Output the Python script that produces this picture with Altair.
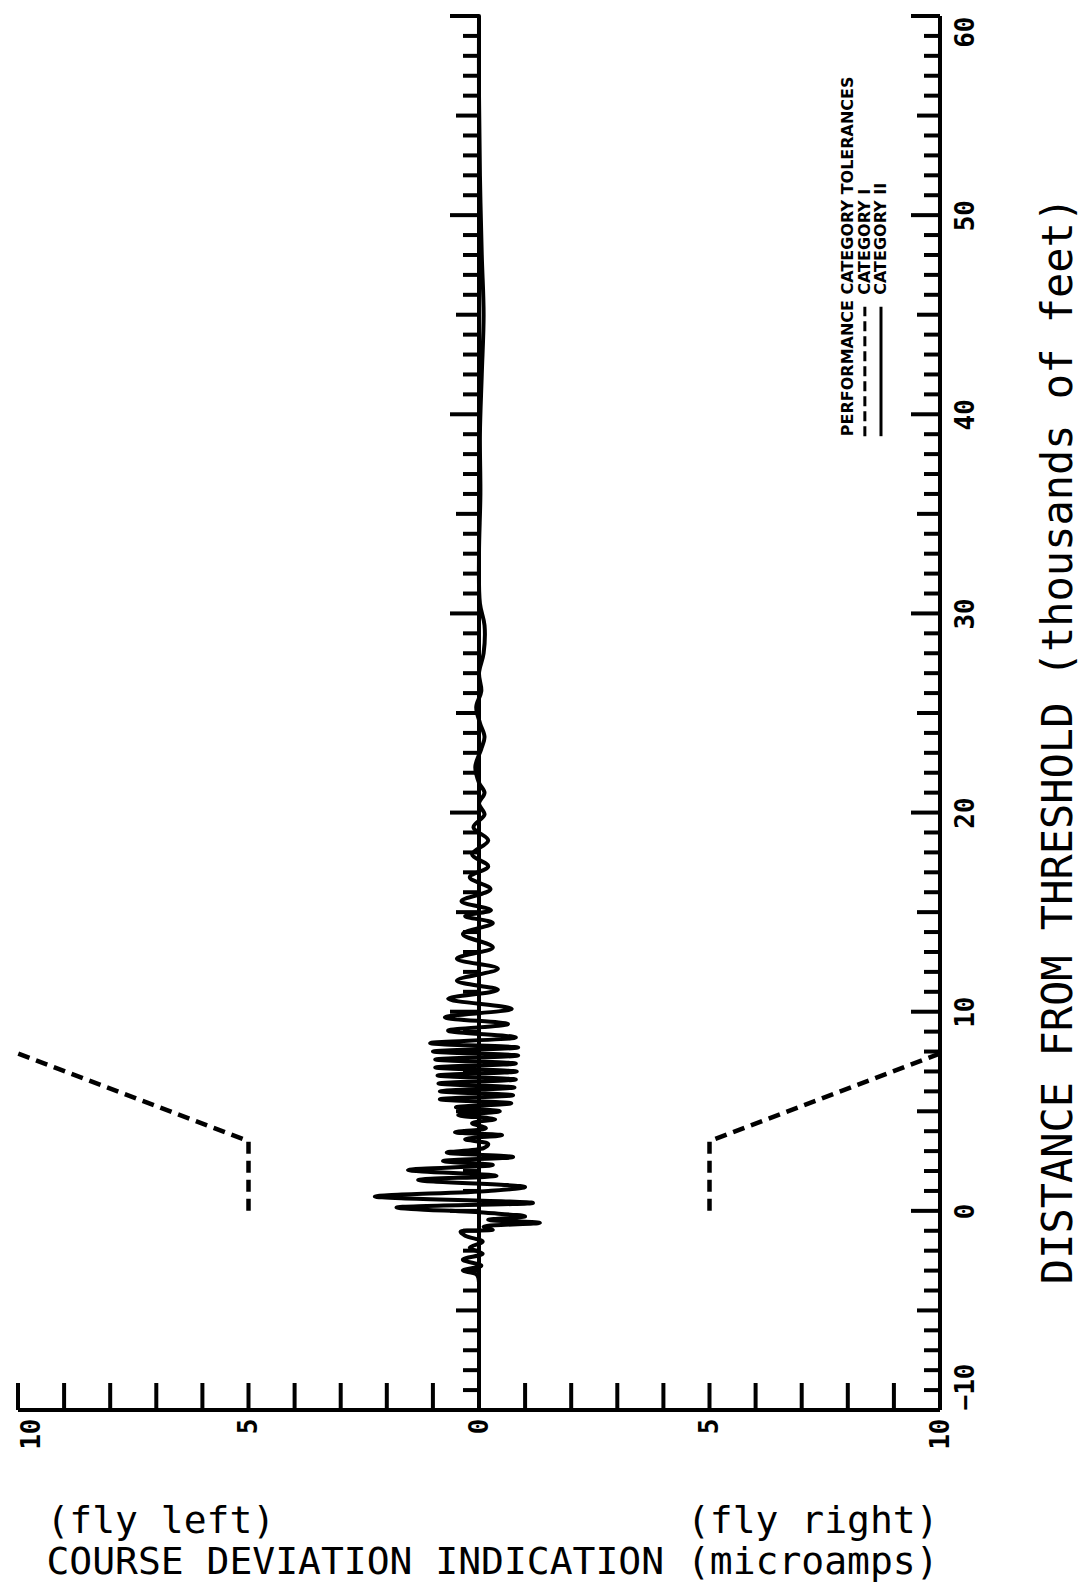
import altair as alt
import pandas as pd

# ---------------- data ----------------
# recorded course deviation trace: distance (thousands of ft) / CDI (microamps, negative = fly left)
trace_dist = [-3.6, -3.2, -3.0, -2.75, -2.45, -2.15, -1.85, -1.55, -1.25, -1.05,
              -0.95, -0.8, -0.6, -0.45, -0.28, -0.1, 0.17, 0.4, 0.72, 1.0,
              1.2, 1.55, 1.76, 2.05, 2.3, 2.5, 2.7, 2.93, 3.15, 3.36,
              3.6, 3.8, 3.95, 4.15, 4.4, 4.6, 4.8, 5.0, 5.2, 5.4,
              5.6, 5.8, 6.0, 6.2, 6.4, 6.6, 6.8, 7.0, 7.2, 7.4,
              7.6, 7.8, 8.0, 8.2, 8.42, 8.71, 9.05, 9.38, 9.72, 10.15,
              10.65, 11.1, 11.56, 12.16, 12.66, 13.23, 13.9, 14.45, 14.8, 15.1,
              15.55, 16.15, 16.75, 17.3, 17.9, 18.6, 19.26, 19.9, 20.45, 21.0,
              21.5, 22.3, 23.2, 23.8, 24.5, 25.3, 26.1, 27.0, 28.0, 29.4,
              30.5, 33.0, 36.0, 39.0, 42.0, 45.0, 48.0, 52.0, 56.0, 60.0]
trace_cdi = [0.0, -0.05, -0.35, 0.05, -0.35, 0.08, -0.2, 0.08, -0.3, -0.4,
             0.3, 0.1, 1.32, 0.2, 1.0, 0.15, -1.79, 1.17, -2.26, 0.2,
             1.0, -1.32, 0.38, -1.54, 0.3, -0.78, 0.74, -0.7, 0.1, 0.2,
             -0.3, 0.5, -0.52, 0.15, -0.15, 0.35, -0.45, 0.45, -0.5, 0.7,
             -0.85, 0.74, -0.85, 0.77, -0.88, 0.8, -0.9, 0.82, -0.95, 0.8,
             -0.95, 0.85, -1.0, 0.85, -1.06, 0.8, -0.67, 0.63, -0.74, 0.71,
             -0.67, 0.41, -0.48, 0.41, -0.48, 0.3, -0.35, 0.3, -0.3, 0.26,
             -0.38, 0.25, -0.2, 0.2, -0.15, 0.2, -0.12, 0.12, 0.0, 0.12,
             0.0, -0.08, 0.05, 0.12, 0.02, -0.06, 0.05, 0.0, 0.1, 0.12,
             0.02, 0.0, 0.03, 0.02, 0.06, 0.1, 0.06, 0.02, 0.0, 0.0]

# Category I tolerance envelope
tol_dist = [0.0, 3.5, 7.9]
tol_left = [-5, -5, -10]
tol_right = [5, 5, 10]

# axis tick positions
cdi_ticks = list(range(-10, 11))
dist_all = list(range(-10, 61))
dist_major = [d for d in dist_all if d % 10 == 0]
dist_mid = [d for d in dist_all if d % 5 == 0 and d % 10 != 0]
dist_minor = [d for d in dist_all if d % 5 != 0]
x_label_values = [-10, -5, 0, 5, 10]
y_label_values = [-10, 0, 10, 20, 30, 40, 50, 60]

# legend
legend_text = ["PERFORMANCE CATEGORY TOLERANCES", "CATEGORY I", "CATEGORY II"]
legend_x = [8.0, 8.37, 8.72]
legend_y = [38.9, 46.0, 46.0]
legend_line_x = [8.37, 8.72]
legend_line_y = [38.9, 38.9]
legend_line_y2 = [45.4, 45.4]

x_title = ["(fly left)" + "\u00a0" * 18 + "(fly right)",
           "COURSE DEVIATION INDICATION (microamps)"]
y_title = "DISTANCE FROM THRESHOLD (thousands of feet)"

# ---------------- chart ----------------
xs = alt.Scale(domain=[-10, 10], nice=False, zero=False)
ys = alt.Scale(domain=[-10, 60], nice=False, zero=False)
MONO = "DejaVu Sans Mono"

x_axis = alt.Axis(values=x_label_values, labelExpr="'' + abs(datum.value)",
                  labelAngle=270, labelAlign="right",
                  labelBaseline={"condition": {"test": "datum.value == -10", "value": "top"},
                                 "value": "middle"},
                  labelFont=MONO, labelFontWeight="bold", labelFontSize=26,
                  labelColor="black", labelPadding=8, labelFlush=False,
                  labelOverlap=False, ticks=False, tickSize=0, domain=False, grid=False,
                  title=x_title, titleFont=MONO, titleFontSize=38,
                  titleFontWeight="normal", titleColor="black", titleLineHeight=41,
                  titleX=474, titleY=92, titleAlign="center", titleBaseline="top",
                  titleAnchor="middle")
y_axis = alt.Axis(orient="right", values=y_label_values,
                  labelAngle=270,
                  labelAlign={"condition": [{"test": "datum.value == 60", "value": "right"},
                                            {"test": "datum.value == -10", "value": "left"}],
                              "value": "center"},
                  labelBaseline="top",
                  labelFont=MONO, labelFontWeight="bold", labelFontSize=26,
                  labelColor="black", labelPadding=12, labelFlush=False,
                  labelOverlap=False, ticks=False, tickSize=0, domain=False, grid=False,
                  title=y_title, titleFont=MONO, titleFontSize=42,
                  titleFontWeight="normal", titleColor="black", titleAngle=270,
                  titleX=118, titleY=724, titleAlign="center", titleBaseline="middle")


def X(field):
    return alt.X(field, type="quantitative", scale=xs, axis=x_axis)


def Y(field):
    return alt.Y(field, type="quantitative", scale=ys, axis=y_axis)


trace_df = pd.DataFrame({"i": range(len(trace_dist)), "d": trace_dist, "c": trace_cdi})
trace = alt.Chart(trace_df).mark_line(color="black", strokeWidth=4,
                                      interpolate="catmull-rom",
                                      strokeJoin="round", strokeCap="round").encode(
    x=X("c"), y=Y("d"), order="i:Q")

tol_df = pd.DataFrame({
    "i": list(range(3)) * 2,
    "d": tol_dist + tol_dist,
    "c": tol_left + tol_right,
    "side": ["left"] * 3 + ["right"] * 3})
tol = alt.Chart(tol_df).mark_line(color="black", strokeWidth=4.5,
                                  strokeDash=[12, 7]).encode(
    x=X("c"), y=Y("d"), detail="side:N", order="i:Q")

rules_df = pd.DataFrame({
    "c": [-10, 10, 0], "c2": [10, 10, 0],
    "d": [-10, -10, -10], "d2": [-10, 60, 60]})
frame = alt.Chart(rules_df).mark_rule(color="black", strokeWidth=4).encode(
    x=X("c"), x2="c2:Q", y=Y("d"), y2="d2:Q")


def hticks(values, xpos, length):
    df = pd.DataFrame({"d": values, "c": [xpos] * len(values)})
    return alt.Chart(df).mark_tick(color="black", opacity=1, orient="horizontal",
                                   size=length, thickness=4,
                                   xOffset=-length / 2).encode(
        x=X("c"), y=Y("d"))


tick_layers = []
for xpos in (10, 0):
    tick_layers.append(hticks(dist_minor, xpos, 16))
    tick_layers.append(hticks(dist_mid, xpos, 23))
    tick_layers.append(hticks(dist_major, xpos, 29))

bt_df = pd.DataFrame({"c": cdi_ticks, "d": [-10] * len(cdi_ticks)})
bottom_ticks = alt.Chart(bt_df).mark_tick(color="black", opacity=1, orient="vertical",
                                          size=27, thickness=4, yOffset=-13.5).encode(
    x=X("c"), y=Y("d"))

leg_df = pd.DataFrame({"c": legend_x, "d": legend_y, "t": legend_text})
leg_text = alt.Chart(leg_df).mark_text(angle=270, align="left", baseline="middle",
                                       font="DejaVu Sans", fontWeight="bold",
                                       fontSize=16, color="black").encode(
    x=X("c"), y=Y("d"), text="t:N")

ll_df = pd.DataFrame({"c": legend_line_x, "d": legend_line_y, "d2": legend_line_y2,
                      "k": ["I", "II"]})
leg_dash = alt.Chart(ll_df[ll_df.k == "I"]).mark_rule(
    color="black", strokeWidth=3, strokeDash=[10, 5]).encode(
    x=X("c"), y=Y("d"), y2="d2:Q")
leg_solid = alt.Chart(ll_df[ll_df.k == "II"]).mark_rule(
    color="black", strokeWidth=3).encode(
    x=X("c"), y=Y("d"), y2="d2:Q")

chart = alt.layer(trace, tol, frame, *tick_layers, bottom_ticks,
                  leg_text, leg_dash, leg_solid).properties(
    width=922, height=1394,
    padding={"left": 10, "top": 8, "right": 143, "bottom": 175},
    autosize=alt.AutoSizeParams(type="none"),
    background="white",
).configure_view(strokeWidth=0)

chart.save("out.html", embed_options={"renderer": "svg", "actions": False})
